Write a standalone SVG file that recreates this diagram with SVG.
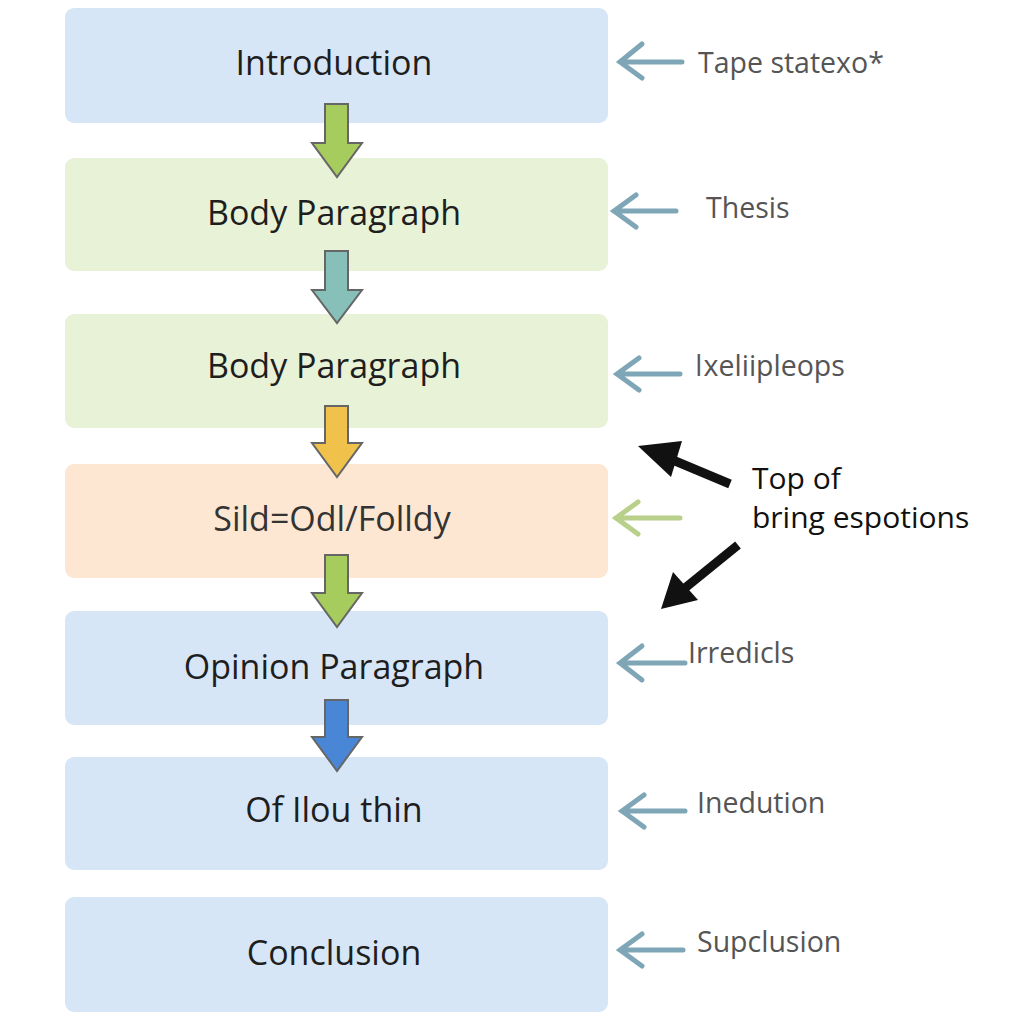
<svg xmlns="http://www.w3.org/2000/svg" width="1024" height="1024" viewBox="0 0 1024 1024">
<defs>
<style>
.box{stroke:none}
.blue{fill:#d7e6f7}
.green{fill:#e8f2d6}
.peach{fill:#fde7d2}
.t{font-family:"Open Sans","Noto Sans",sans-serif;font-size:34px;fill:#1e1e1e;text-anchor:middle}
.s{font-family:"Open Sans","Noto Sans",sans-serif;font-size:28.5px;fill:#555}
.side{stroke:#7fa6b6;stroke-width:5;stroke-linecap:round;fill:none}
.blk{font-family:"Open Sans","Noto Sans",sans-serif;font-size:30px;fill:#111}
.da{stroke:#666;stroke-width:2;stroke-linejoin:miter}
</style>
</defs>
<rect width="1024" height="1024" fill="#ffffff"/>
<g id="n1"><rect class="box blue" x="65" y="8" width="543" height="115" rx="9"/><text class="t" x="334" y="75">Introduction</text></g>
<g id="n2"><rect class="box green" x="65" y="158" width="543" height="113" rx="9"/><text class="t" x="334" y="225">Body Paragraph</text></g>
<g id="n3"><rect class="box green" x="65" y="314" width="543" height="114" rx="9"/><text class="t" x="334" y="378">Body Paragraph</text></g>
<g id="n4"><rect class="box peach" x="65" y="464" width="543" height="114" rx="9"/><text class="t" x="332" y="531" style="fill:#333">Sild=Odl/Folldy</text></g>
<g id="n5"><rect class="box blue" x="65" y="611" width="543" height="114" rx="9"/><text class="t" x="334" y="679">Opinion Paragraph</text></g>
<g id="n6"><rect class="box blue" x="65" y="757" width="543" height="113" rx="9"/><text class="t" x="334" y="822">Of Ilou thin</text></g>
<g id="n7"><rect class="box blue" x="65" y="897" width="543" height="115" rx="9"/><text class="t" x="334" y="965">Conclusion</text></g>
<g id="connectors">
<polygon class="da" fill="#a5cc5c" points="325,104 348,104 348,143 362,143 337,177 312,143 325,143"/>
<polygon class="da" fill="#86c0b8" points="325,251 348,251 348,290 362,290 337,323 312,290 325,290"/>
<polygon class="da" fill="#f0c24c" points="325,406 348,406 348,443 362,443 337,477 312,443 325,443"/>
<polygon class="da" fill="#a5cc5c" points="325,555 348,555 348,593 362,593 337,627 312,593 325,593"/>
<polygon class="da" fill="#4a86d6" points="325,700 348,700 348,737 362,737 337,771 312,737 325,737"/>
<g class="side">
<path d="M682,62 H620 M642,44 L620,62 L642,78"/>
<path d="M676,211 H614 M636,195 L614,211 L636,227"/>
<path d="M680,374 H617 M639,358 L617,374 L639,390"/>
<path d="M680,518 H616 M638,502 L616,518 L638,534" style="stroke:#b8d08a"/>
<path d="M685,663 H620 M642,646 L620,663 L642,680"/>
<path d="M685,811 H622 M644,795 L622,811 L644,827"/>
<path d="M683,950 H620 M642,934 L620,950 L642,966"/>
</g>
<path d="M730,484 L668,458" stroke="#111" stroke-width="9" fill="none"/>
<polygon fill="#111" points="638,446 682,441 671,477"/>
<path d="M738,545 L685,588" stroke="#111" stroke-width="9" fill="none"/>
<polygon fill="#111" points="661,609 673,572 698,600"/>
</g>
<text class="s" x="698" y="73">Tape statexo*</text>
<text class="s" x="706" y="218">Thesis</text>
<text class="s" x="694" y="376">ǀxeliipleops</text>
<text class="s" x="688" y="663">Irredicls</text>
<text class="s" x="697" y="813">Inedution</text>
<text class="s" x="697" y="952">Supclusion</text>
<text class="blk" x="752" y="489">Top of</text>
<text class="blk" x="752" y="528">bring espotions</text>
</svg>
